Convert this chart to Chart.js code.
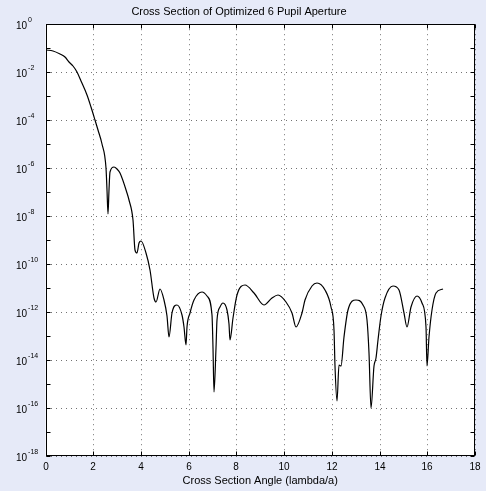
<!DOCTYPE html>
<html>
<head>
<meta charset="utf-8">
<script src="https://cdn.jsdelivr.net/npm/chart.js@4.4.0/dist/chart.umd.min.js"></script>
<style>
  html, body { margin: 0; padding: 0; background: #e6eaf8; }
  canvas { display: block; }
</style>
</head>
<body>
<canvas id="cs" width="486" height="491"></canvas>
<script>
// angle in lambda/a
const angles = [
  0, 0.3, 0.62, 0.8, 1.0, 1.15, 1.32, 1.5, 1.73, 1.9, 2.08, 2.2, 2.36, 2.53, 2.57, 2.61, 2.66, 2.71,
  2.89, 3.0, 3.12, 3.4, 3.48, 3.65,
  3.75, 3.83, 3.9, 4.0, 4.21, 4.39, 4.53, 4.62, 4.79, 4.97, 5.11, 5.18, 5.29, 5.5, 5.73, 5.8, 5.87, 5.94,
  6.05, 6.22, 6.54, 6.78, 6.96, 7.03, 7.08, 7.13, 7.19, 7.3, 7.44, 7.61, 7.7, 7.75, 7.86, 8.03, 8.38,
  8.72, 9.17, 9.48, 9.76, 10.07, 10.32, 10.5, 10.73, 10.88, 11.15, 11.4, 11.71, 11.96, 12.1, 12.15,
  12.22, 12.3, 12.4, 12.51, 12.68, 13.03, 13.3, 13.48, 13.58, 13.65, 13.76, 13.86, 13.93, 14.05, 14.22,
  14.55, 14.83, 15.04, 15.15, 15.32, 15.57, 15.8, 15.94, 16.01, 16.08, 16.18, 16.36, 16.64
];
// normalized intensity
const intensity = [
  8.5e-2, 7.8e-2, 5.9e-2, 4.3e-2, 2.75e-2, 1.78e-2, 1.0e-2, 4.3e-3, 1.12e-3, 3.5e-4, 1.02e-4, 4.0e-5,
  1.0e-5, 1.02e-6, 1.26e-7, 1.26e-8, 1.26e-7, 7.2e-7,
  1.07e-6, 9.3e-7, 6.3e-7, 9.1e-8, 4.8e-8, 7.1e-9,
  4.0e-10, 2.9e-10, 7.4e-10, 9.5e-10, 2.9e-10, 5.8e-11, 3.8e-12, 2.75e-12, 9.1e-12, 3.2e-12, 6.6e-13,
  9.5e-14, 9.1e-13, 2.0e-12, 7.8e-13, 2.5e-13, 4.4e-14, 2.5e-13,
  9.1e-13, 3.2e-12, 6.8e-12, 4.5e-12, 7.8e-13, 3.2e-14, 4.5e-16, 3.2e-14, 4.8e-13, 1.7e-12, 2.3e-12,
  1.26e-12, 3.2e-13, 6.6e-14, 5.6e-13, 5.2e-12, 1.29e-11,
  6.2e-12, 2.0e-12, 3.8e-12, 5.1e-12, 2.75e-12, 9.1e-13, 2.3e-13, 9.1e-13, 3.2e-12, 1.17e-11, 1.6e-11,
  8.5e-12, 1.7e-12, 1.8e-13, 5.4e-15,
  1.9e-16, 6.3e-15, 5.4e-15, 9.5e-14, 1.26e-12, 3.2e-12, 2.0e-12, 4.8e-13, 1.95e-14, 1.0e-16, 5.4e-15,
  1.2e-14, 7.1e-14, 7.1e-13, 4.0e-12,
  1.26e-11, 8.5e-12, 9.1e-13, 2.5e-13, 1.7e-12, 4.8e-12, 2.3e-12, 2.5e-13, 5.4e-15, 9.5e-14, 1.26e-12,
  6.2e-12, 9.3e-12
];

const xTicks = [0, 2, 4, 6, 8, 10, 12, 14, 16, 18];
const yMajor = [1, 1e-2, 1e-4, 1e-6, 1e-8, 1e-10, 1e-12, 1e-14, 1e-16, 1e-18];
const yMinor = [1e-1, 1e-3, 1e-5, 1e-7, 1e-9, 1e-11, 1e-13, 1e-15, 1e-17];
const yExponents = ['0', '-2', '-4', '-6', '-8', '-10', '-12', '-14', '-16', '-18'];

const FONT = "'Liberation Sans', Arial, Helvetica, sans-serif";
const GRID_COLOR = 'rgba(0,0,0,0.55)';

// white axes box, inward ticks on all four sides, 10^n labels
const frame = {
  id: 'frame',
  beforeDraw(chart) {
    const { ctx, chartArea: a } = chart;
    ctx.save();
    ctx.fillStyle = '#fff';
    ctx.fillRect(a.left, a.top, a.right - a.left, a.bottom - a.top);
    ctx.restore();
  },
  afterDraw(chart) {
    const { ctx, chartArea: a, scales: { x, y } } = chart;
    const L = Math.round(a.left) + 0.5, R = Math.round(a.right) - 0.5;
    const T = Math.round(a.top) + 0.5, B = Math.round(a.bottom) - 0.5;
    const tl = 4;
    ctx.save();
    ctx.strokeStyle = '#000';
    ctx.lineWidth = 1;
    ctx.beginPath();
    xTicks.forEach(v => {
      const px = Math.round(x.getPixelForValue(v)) + 0.5;
      ctx.moveTo(px, B); ctx.lineTo(px, B - tl);
      ctx.moveTo(px, T); ctx.lineTo(px, T + tl);
    });
    yMajor.concat(yMinor).forEach(v => {
      const py = Math.round(y.getPixelForValue(v)) + 0.5;
      ctx.moveTo(L, py); ctx.lineTo(L + tl, py);
      ctx.moveTo(R, py); ctx.lineTo(R - tl, py);
    });
    ctx.stroke();
    ctx.strokeRect(L, T, R - L, B - T);

    ctx.fillStyle = '#000';
    ctx.textBaseline = 'middle';
    ctx.textAlign = 'left';
    yMajor.forEach((v, i) => {
      const py = y.getPixelForValue(v);
      ctx.font = '10px ' + FONT;
      ctx.fillText('10', 16, py + 2);
      const w = ctx.measureText('10').width;
      ctx.font = '7px ' + FONT;
      ctx.fillText(yExponents[i], 16 + w + 1, py - 4);
    });
    ctx.restore();
  }
};

new Chart(document.getElementById('cs'), {
  type: 'line',
  data: {
    datasets: [{
      data: angles.map((a, i) => ({ x: a, y: intensity[i] })),
      borderColor: '#000',
      borderWidth: 1.2,
      pointRadius: 0,
      fill: false,
      cubicInterpolationMode: 'monotone'
    }]
  },
  options: {
    responsive: false,
    animation: false,
    devicePixelRatio: 1,
    layout: { padding: { left: 0, right: 8, top: 0, bottom: 0 } },
    plugins: {
      legend: { display: false },
      tooltip: { enabled: false },
      title: {
        display: true,
        text: 'Cross Section of Optimized 6 Pupil Aperture',
        color: '#000',
        font: { family: FONT, size: 11, weight: 'normal' },
        padding: { top: 5, bottom: 6 }
      }
    },
    scales: {
      x: {
        type: 'linear',
        min: 0,
        max: 18,
        alignToPixels: true,
        afterFit(s) { s.height = 35; },
        ticks: { stepSize: 2, color: '#000', padding: 5, font: { family: FONT, size: 10 } },
        grid: { color: GRID_COLOR, lineWidth: 1, drawTicks: false },
        border: { display: false, dash: [1, 4] },
        title: {
          display: true,
          text: 'Cross Section Angle (lambda/a)',
          color: '#000',
          font: { family: FONT, size: 11 },
          padding: { top: 0, bottom: 3 }
        }
      },
      y: {
        type: 'logarithmic',
        min: 1e-18,
        max: 1,
        alignToPixels: true,
        afterFit(s) { s.width = 45.5; },
        afterBuildTicks(s) { s.ticks = yMajor.map(v => ({ value: v })); },
        ticks: { display: false },
        grid: { color: GRID_COLOR, lineWidth: 1, drawTicks: false },
        border: { display: false, dash: [1, 4] }
      }
    }
  },
  plugins: [frame]
});
</script>
</body>
</html>
